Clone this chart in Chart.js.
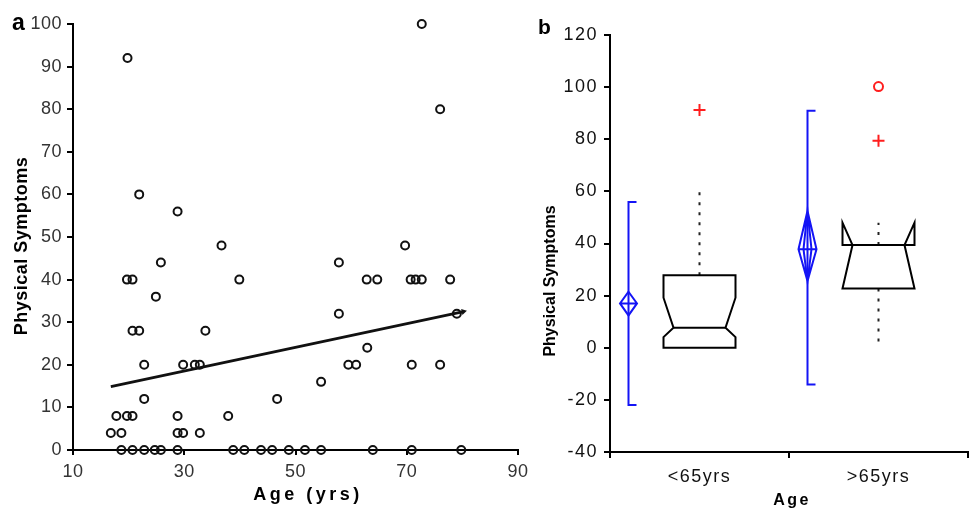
<!DOCTYPE html>
<html>
<head>
<meta charset="utf-8">
<script src="https://cdn.jsdelivr.net/npm/chart.js@4.4.1/dist/chart.umd.min.js"></script>
<style>
  body { margin: 0; background: #fff; }
  #wrap { position: relative; width: 976px; height: 510px; }
  canvas { position: absolute; top: 0; }
  #scatterChart { left: 0; }
  #boxChart { left: 530px; }
</style>
</head>
<body>
<div id="wrap">
  <canvas id="scatterChart" width="540" height="510"></canvas>
  <canvas id="boxChart" width="446" height="510"></canvas>
</div>
<script>
// Panel a: age against physical symptoms score
const ages = [19.8, 21.9, 28.8, 36.7, 72.7, 76, 69.7, 16.8, 18.7, 17.8, 19.7, 20.7,
  18.7, 20.7, 22.8, 24.7, 25.8, 28.8, 19.7, 20.7, 20.7, 21.9, 22.8, 22.8,
  24.9, 25.8, 28.8, 28.8, 29.8, 29.8, 31.9, 32.8, 32.8, 33.8, 39.9, 37.9,
  38.8, 40.8, 43.8, 45.8, 48.8, 51.7, 54.6, 63.9, 70.9, 79.8, 57.8, 62.8,
  64.7, 70.7, 71.6, 72.7, 77.8, 57.8, 79, 62.9, 59.5, 60.9, 70.9, 76, 54.6, 46.7];
const symptoms = [92, 60, 56, 48, 100, 80, 48, 4, 4, 8, 8, 8,
  0, 0, 0, 0, 0, 0, 40, 40, 28, 28, 20, 12,
  36, 44, 8, 4, 4, 20, 20, 20, 4, 28, 40, 8,
  0, 0, 0, 0, 0, 0, 0, 0, 0, 0, 44, 40,
  40, 40, 40, 40, 40, 32, 32, 24, 20, 20, 20, 20, 16, 12];
const fitAges = [16.8, 80.2];
const fitValues = [14.9, 32.5];

// Panel b: notched box plots and blue mean / range bars per age group
const groups = ["<65yrs", ">65yrs"];
const boxQ1 = [0, 22.7];
const boxMedian = [7.7, 39.4];
const boxQ3 = [27.8, 39.4];
const notchLow = [4.1, 22.7];
const notchHigh = [19.2, 48];
const whiskerLow = [0, 0];
const whiskerHigh = [60, 48];
const plusGroups = ["<65yrs", ">65yrs"];
const plusValues = [91.2, 79.4];
const circleGroups = [">65yrs"];
const circleValues = [100.2];
const meanValues = [17, 37.8];
const meanLow = [12.4, 25.6];
const meanHigh = [21.5, 52.5];
const rangeLow = [-22, -14.1];
const rangeHigh = [55.9, 90.9];

const FONT = "'Liberation Sans', Arial, sans-serif";
Chart.defaults.font.family = FONT;

// Draws panel letters and axis titles, and sets letter spacing for tick labels
function textPlugin(items, tickSpacing) {
    return {
        id: "panelText",
        beforeDraw(chart) {
            chart.ctx.letterSpacing = tickSpacing;
        },
        afterDraw(chart) {
            const ctx = chart.ctx;
            items.forEach(it => {
                ctx.save();
                ctx.letterSpacing = it.spacing || "0px";
                ctx.font = it.font;
                ctx.fillStyle = "#000";
                ctx.textAlign = it.align || "center";
                ctx.textBaseline = it.baseline || "middle";
                ctx.translate(it.x, it.y);
                if (it.rotate) ctx.rotate(it.rotate);
                ctx.fillText(it.text, 0, 0);
                ctx.restore();
            });
            ctx.letterSpacing = "0px";
        }
    };
}

function axisStyle(tickLen, pad, color) {
    return {
        ticks: { font: { size: 18 }, color: color, padding: pad, maxRotation: 0 },
        grid: { drawOnChartArea: false, color: "#000", lineWidth: 2, tickLength: tickLen },
        border: { color: "#000", width: 2 }
    };
}

const xa = axisStyle(5, 6, "#333");
const ya = axisStyle(6, 5, "#333");

new Chart(document.getElementById("scatterChart"), {
    type: "scatter",
    data: {
        datasets: [
            {
                data: ages.map((a, i) => ({ x: a, y: symptoms[i] })),
                pointStyle: "circle",
                pointRadius: 4,
                borderWidth: 2,
                borderColor: "#111",
                backgroundColor: "rgba(0,0,0,0)",
                clip: false
            },
            {
                type: "line",
                data: fitAges.map((a, i) => ({ x: a, y: fitValues[i] })),
                borderColor: "#111",
                borderWidth: 2.8,
                pointRadius: [0, 3.5],
                pointStyle: "triangle",
                pointRotation: 78,
                pointBackgroundColor: "#111",
                pointBorderWidth: 0,
                fill: false,
                tension: 0
            }
        ]
    },
    options: {
        responsive: false,
        animation: false,
        devicePixelRatio: 1,
        layout: { padding: { top: 24, right: 22, left: 0, bottom: 0 } },
        plugins: { legend: { display: false }, tooltip: { enabled: false } },
        scales: {
            x: {
                type: "linear", min: 10, max: 90,
                ticks: { ...xa.ticks, stepSize: 20 },
                grid: xa.grid, border: xa.border,
                afterFit: s => { s.height = 60; }
            },
            y: {
                type: "linear", min: 0, max: 100,
                ticks: { ...ya.ticks, stepSize: 10 },
                grid: ya.grid, border: ya.border,
                afterFit: s => { s.width = 73; }
            }
        }
    },
    plugins: [textPlugin([
        { text: "a", font: "bold 23px " + FONT, x: 12, y: 30, align: "left", baseline: "alphabetic" },
        { text: "Physical Symptoms", font: "bold 18px " + FONT, x: 22, y: 246, rotate: -Math.PI / 2, spacing: "0.5px" },
        { text: "Age (yrs)", font: "bold 18px " + FONT, x: 308, y: 495, spacing: "3.5px" }
    ], "0.5px")]
});

const boxPlotPlugin = {
    id: "boxPlot",
    afterDatasetsDraw(chart) {
        const ctx = chart.ctx;
        const xs = chart.scales.x;
        const ys = chart.scales.y;
        const py = v => ys.getPixelForValue(v);
        const half = 36, indent = 10, blueShift = 71, capLen = 8;
        ctx.save();
        groups.forEach((g, i) => {
            const cx = xs.getPixelForValue(i);

            // dotted whiskers
            ctx.strokeStyle = "#222";
            ctx.lineWidth = 2;
            ctx.setLineDash([3, 7]);
            ctx.beginPath();
            ctx.moveTo(cx, py(boxQ3[i]));
            ctx.lineTo(cx, py(whiskerHigh[i]));
            if (whiskerLow[i] < boxQ1[i]) {
                ctx.moveTo(cx, py(boxQ1[i]));
                ctx.lineTo(cx, py(whiskerLow[i]));
            }
            ctx.stroke();
            ctx.setLineDash([]);

            // notched box
            const L = cx - half, R = cx + half;
            ctx.strokeStyle = "#000";
            ctx.lineWidth = 2;
            ctx.lineJoin = "miter";
            ctx.beginPath();
            ctx.moveTo(L, py(boxQ1[i]));
            ctx.lineTo(L, py(notchLow[i]));
            ctx.lineTo(L + indent, py(boxMedian[i]));
            ctx.lineTo(L, py(notchHigh[i]));
            ctx.lineTo(L, py(boxQ3[i]));
            ctx.lineTo(R, py(boxQ3[i]));
            ctx.lineTo(R, py(notchHigh[i]));
            ctx.lineTo(R - indent, py(boxMedian[i]));
            ctx.lineTo(R, py(notchLow[i]));
            ctx.lineTo(R, py(boxQ1[i]));
            ctx.closePath();
            ctx.stroke();
            ctx.beginPath();
            ctx.moveTo(L + indent, py(boxMedian[i]));
            ctx.lineTo(R - indent, py(boxMedian[i]));
            ctx.stroke();

            // blue mean with interval and range
            const bx = cx - blueShift;
            const dw = i === 0 ? 8.5 : 9;
            ctx.strokeStyle = "#1414f5";
            ctx.lineWidth = 2;
            ctx.beginPath();
            ctx.moveTo(bx + capLen, py(rangeHigh[i]));
            ctx.lineTo(bx, py(rangeHigh[i]));
            ctx.lineTo(bx, py(rangeLow[i]));
            ctx.lineTo(bx + capLen, py(rangeLow[i]));
            ctx.stroke();
            ctx.beginPath();
            ctx.moveTo(bx, py(meanHigh[i]));
            ctx.lineTo(bx + dw, py(meanValues[i]));
            ctx.lineTo(bx, py(meanLow[i]));
            ctx.lineTo(bx - dw, py(meanValues[i]));
            ctx.closePath();
            ctx.moveTo(bx - dw, py(meanValues[i]));
            ctx.lineTo(bx + dw, py(meanValues[i]));
            if (i === 1) {
                ctx.moveTo(bx, py(meanHigh[i]));
                ctx.lineTo(bx + 4, py(meanValues[i]));
                ctx.lineTo(bx, py(meanLow[i]));
                ctx.lineTo(bx - 4, py(meanValues[i]));
                ctx.closePath();
            }
            ctx.stroke();
        });
        ctx.restore();
    }
};

const bx = axisStyle(6, 8, "#111");
const by = axisStyle(6, 6, "#111");

new Chart(document.getElementById("boxChart"), {
    type: "scatter",
    data: {
        labels: groups,
        datasets: [
            {
                data: plusGroups.map((g, i) => ({ x: g, y: plusValues[i] })),
                pointStyle: "cross",
                pointRadius: 6,
                borderColor: "#ff1e1e",
                borderWidth: 2
            },
            {
                data: circleGroups.map((g, i) => ({ x: g, y: circleValues[i] })),
                pointStyle: "circle",
                pointRadius: 4.5,
                borderColor: "#ff1e1e",
                borderWidth: 2,
                backgroundColor: "rgba(0,0,0,0)"
            }
        ]
    },
    options: {
        responsive: false,
        animation: false,
        devicePixelRatio: 1,
        layout: { padding: { top: 35, right: 3, left: 0, bottom: 0 } },
        plugins: { legend: { display: false }, tooltip: { enabled: false } },
        scales: {
            x: {
                type: "category", labels: groups, offset: true,
                ticks: bx.ticks,
                grid: { ...bx.grid, offset: true }, border: bx.border,
                afterFit: s => { s.height = 58; }
            },
            y: {
                type: "linear", min: -40, max: 120,
                ticks: { ...by.ticks, stepSize: 20 },
                grid: by.grid, border: by.border,
                afterFit: s => { s.width = 80; }
            }
        }
    },
    plugins: [boxPlotPlugin, textPlugin([
        { text: "b", font: "bold 21px " + FONT, x: 8, y: 34, align: "left", baseline: "alphabetic" },
        { text: "Physical Symptoms", font: "bold 16px " + FONT, x: 21, y: 281, rotate: -Math.PI / 2 },
        { text: "Age", font: "bold 16px " + FONT, x: 262, y: 501, spacing: "2.5px" }
    ], "1.5px")]
});
</script>
</body>
</html>
